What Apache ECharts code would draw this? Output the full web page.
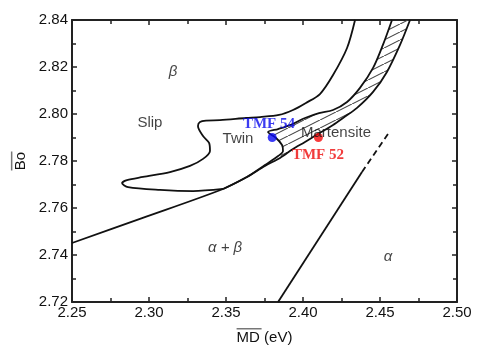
<!DOCTYPE html>
<html>
<head>
<meta charset="utf-8">
<script src="https://cdn.jsdelivr.net/npm/echarts@6/dist/echarts.min.js"></script>
<style>
  html, body { margin: 0; padding: 0; background: #fff; }
  #main { width: 479px; height: 351px; }
</style>
</head>
<body>
<div id="main"></div>
<script type="text/javascript">
    // 曲线数据 (MD, Bo)
    var slipBoundary = [
        [2.4338, 2.8400], [2.4286, 2.8281], [2.4195, 2.8166], [2.4110, 2.8085],
        [2.4019, 2.8047], [2.3935, 2.8017], [2.3844, 2.7996], [2.3721, 2.7987],
        [2.3630, 2.7983], [2.3461, 2.7974], [2.3370, 2.7972], [2.3331, 2.7966],
        [2.3318, 2.7949], [2.3351, 2.7906], [2.3390, 2.7877], [2.3396, 2.7843],
        [2.3351, 2.7809], [2.3266, 2.7779], [2.3136, 2.7753], [2.2961, 2.7732],
        [2.2857, 2.7719], [2.2825, 2.7706], [2.2864, 2.7689], [2.3071, 2.7677],
        [2.3286, 2.7672], [2.3481, 2.7681]
    ];
    var betaLine = [
        [2.2500, 2.7451], [2.2955, 2.7557], [2.3481, 2.7681]
    ];
    var martensiteLower = [
        [2.3481, 2.7681], [2.3636, 2.7732], [2.3753, 2.7779], [2.3851, 2.7813],
        [2.3935, 2.7851], [2.4013, 2.7881], [2.4097, 2.7915], [2.4195, 2.7953],
        [2.4260, 2.7983], [2.4351, 2.8026], [2.4455, 2.8094], [2.4545, 2.8179],
        [2.4630, 2.8294], [2.4695, 2.8400]
    ];
    var twinUpper = [
        [2.4578, 2.8400], [2.4519, 2.8294], [2.4455, 2.8196], [2.4370, 2.8111],
        [2.4286, 2.8051], [2.4195, 2.8017], [2.4104, 2.8004], [2.4013, 2.7983],
        [2.3916, 2.7953], [2.3838, 2.7936], [2.3773, 2.7923], [2.3825, 2.7898],
        [2.3864, 2.7868], [2.3870, 2.7843], [2.3838, 2.7821], [2.3753, 2.7783],
        [2.3636, 2.7732], [2.3481, 2.7681]
    ];
    var alphaSolid = [[2.3838, 2.7200], [2.4383, 2.7753]];
    var alphaDashed = [[2.4383, 2.7753], [2.4552, 2.7915]];

    var tmf54 = [2.38, 2.79];
    var tmf52 = [2.41, 2.79];

    var labelNames = ['β', 'Slip', 'Twin', 'Martensite', 'α + β', 'α', 'TMF 54', 'TMF 52'];
    var labelX = [2.3156, 2.3006, 2.3578, 2.4214, 2.3494, 2.4552, 2.3779, 2.4097];
    var labelY = [2.8179, 2.7962, 2.7894, 2.7919, 2.7430, 2.7391, 2.7957, 2.7826];

    var xTicks = { min: 2.25, max: 2.50, interval: 0.05 };
    var yTicks = { min: 2.72, max: 2.84, interval: 0.02 };

    // 阴影区 (马氏体带)
    var hatchPolygon = twinUpper.slice(0, 14).concat(martensiteLower.slice(3));

    var hatchCanvas = document.createElement('canvas');
    hatchCanvas.width = 16;
    hatchCanvas.height = 8;
    var hc = hatchCanvas.getContext('2d');
    hc.strokeStyle = '#444';
    hc.lineWidth = 1.1;
    hc.beginPath();
    hc.moveTo(-2, 9);
    hc.lineTo(18, -1);
    hc.stroke();

    var myChart = echarts.init(document.getElementById('main'), null, {renderer: 'canvas'});

    var frame = {color: '#222', width: 2};
    var tickStyle = {color: '#222', width: 1.5};

    function xAxis(pos, showLabel) {
        return {
            type: 'value', position: pos,
            min: xTicks.min, max: xTicks.max, interval: xTicks.interval,
            axisLine: {show: true, onZero: false, lineStyle: frame},
            axisTick: {show: true, inside: true, length: 5, lineStyle: tickStyle},
            minorTick: {show: true, splitNumber: 2, length: 4, lineStyle: tickStyle},
            splitLine: {show: false},
            axisLabel: {
                show: showLabel, margin: 3, fontSize: 15, color: '#111',
                fontFamily: 'Liberation Sans',
                formatter: function (v) { return v.toFixed(2); }
            }
        };
    }
    function yAxis(pos, showLabel) {
        return {
            type: 'value', position: pos,
            min: yTicks.min, max: yTicks.max, interval: yTicks.interval,
            axisLine: {show: true, onZero: false, lineStyle: frame},
            axisTick: {show: true, inside: true, length: 5, lineStyle: tickStyle},
            minorTick: {show: true, splitNumber: 2, length: 4, lineStyle: tickStyle},
            splitLine: {show: false},
            axisLabel: {
                show: showLabel, margin: 4, fontSize: 15, color: '#111',
                fontFamily: 'Liberation Sans',
                formatter: function (v) { return v.toFixed(2); }
            }
        };
    }

    var xBottom = xAxis('bottom', true);
    xBottom.name = '{ol| }\n{t|MD (eV)}';
    xBottom.nameLocation = 'middle';
    xBottom.nameGap = 26;
    xBottom.nameTextStyle = {
        rich: {
            ol: {width: 25, height: 1.5, lineHeight: 1.5, fontSize: 1, backgroundColor: '#777', align: 'left'},
            t: {fontSize: 15, lineHeight: 17, color: '#111', fontFamily: 'Liberation Sans'}
        }
    };
    var yLeft = yAxis('left', true);
    yLeft.name = '{ol| }\n{t|Bo}';
    yLeft.nameLocation = 'middle';
    yLeft.nameRotate = 90;
    yLeft.nameGap = 42;
    yLeft.nameTextStyle = {
        rich: {
            ol: {width: 19, height: 1.5, lineHeight: 1.5, fontSize: 1, backgroundColor: '#777', align: 'left'},
            t: {fontSize: 15, lineHeight: 16, color: '#111', fontFamily: 'Liberation Sans'}
        }
    };

    var curve = {color: '#111', width: 1.8};

    function lineSeries(data, dashed) {
        return {
            type: 'line', data: data, xAxisIndex: 0, yAxisIndex: 0,
            smooth: dashed ? false : 0.3, symbol: 'none', silent: true,
            lineStyle: dashed ? {color: '#111', width: 1.8, type: [6, 4]} : curve
        };
    }

    var labelStyles = {
        'β': {fontStyle: 'italic'},
        'α + β': {fontStyle: 'italic'},
        'α': {fontStyle: 'italic'},
        'TMF 54': {fontFamily: 'Liberation Serif', fontWeight: 'bold', color: '#0a0aee'},
        'TMF 52': {fontFamily: 'Liberation Serif', fontWeight: 'bold', color: '#ee0a0a'}
    };
    var labelData = labelNames.map(function (name, i) {
        var st = labelStyles[name] || {};
        return {
            value: [labelX[i], labelY[i]],
            label: {
                show: true, position: 'inside', formatter: name,
                fontSize: 15,
                fontFamily: st.fontFamily || 'Liberation Sans',
                fontStyle: st.fontStyle || 'normal',
                fontWeight: st.fontWeight || 'normal',
                color: st.color || '#111'
            }
        };
    });

    var option = {
        animation: false,
        backgroundColor: '#fff',
        grid: {left: 72, right: 22, top: 20, bottom: 49, containLabel: false},
        xAxis: [xBottom, xAxis('top', false)],
        yAxis: [yLeft, yAxis('right', false)],
        series: [
            {
                type: 'custom', silent: true,
                data: [hatchPolygon[0]],
                renderItem: function (params, api) {
                    var pts = hatchPolygon.map(function (p) { return api.coord(p); });
                    return {
                        type: 'polygon',
                        shape: {points: pts},
                        style: {fill: {image: hatchCanvas, repeat: 'repeat'}, stroke: null}
                    };
                }
            },
            lineSeries(slipBoundary),
            lineSeries(betaLine.concat(martensiteLower.slice(1))),
            lineSeries(twinUpper),
            lineSeries(alphaSolid),
            lineSeries(alphaDashed, true),
            {
                type: 'scatter', silent: true, symbolSize: 9,
                data: [
                    {value: tmf54, itemStyle: {color: '#0a0af5'}},
                    {value: tmf52, itemStyle: {color: '#f50a0a'}}
                ],
                z: 5
            },
            {
                type: 'scatter', silent: true, symbol: 'circle', symbolSize: 1,
                itemStyle: {color: 'rgba(0,0,0,0)'},
                data: labelData,
                z: 6
            }
        ]
    };

    myChart.setOption(option);
</script>
</body>
</html>
